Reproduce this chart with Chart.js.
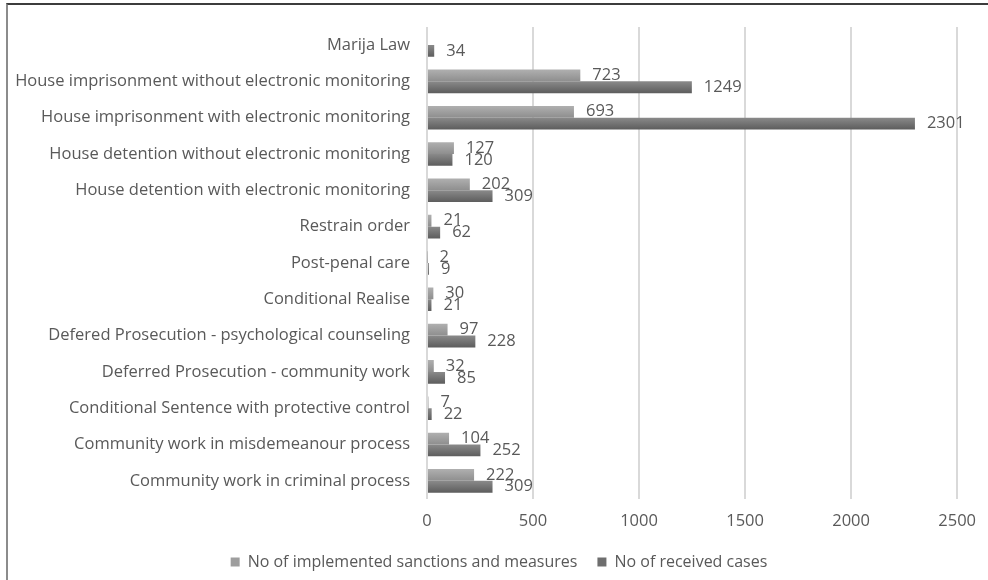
<!DOCTYPE html>
<html>
<head>
<meta charset="utf-8">
<script src="https://cdn.jsdelivr.net/npm/chart.js@4.4.0/dist/chart.umd.min.js"></script>
<style>
  html, body { margin: 0; padding: 0; background: #fff; }
  #wrap { position: relative; width: 988px; height: 580px; overflow: hidden; }
  #frame { position: absolute; left: 6px; top: 3px; width: 1000px; height: 600px;
           border-top: 2px solid #3c3c3c; border-left: 2px solid #8c8c8c; }
  canvas { position: absolute; left: 0; top: 0; }
</style>
</head>
<body>
<div id="wrap">
  <div id="frame"></div>
  <canvas id="chart" width="988" height="580"></canvas>
</div>
<script>
// categories, top to bottom as in the picture
const categories = [
  'Marija Law',
  'House imprisonment without electronic monitoring',
  'House imprisonment with electronic monitoring',
  'House detention without electronic monitoring',
  'House detention with electronic monitoring',
  'Restrain order',
  'Post-penal care',
  'Conditional Realise',
  'Defered Prosecution - psychological counseling',
  'Deferred Prosecution - community work',
  'Conditional Sentence with protective control',
  'Community work in misdemeanour process',
  'Community work in criminal process'
];

const implemented = [null, 723, 693, 127, 202, 21, 2, 30, 97, 32, 7, 104, 222];
const received = [34, 1249, 2301, 120, 309, 62, 9, 21, 228, 85, 22, 252, 309];

const xTicks = [0, 500, 1000, 1500, 2000, 2500];

const FONT = '"Open Sans", Lato, sans-serif';
const TEXT = '#595959';

// vertical gradient for each bar (light on top, darker below)
function barGradient(top, bottom, half) {
  return function (ctx) {
    const chart = ctx.chart;
    const y = chart.scales.y;
    if (!y || ctx.type !== 'data') return bottom;
    const c = y.getPixelForValue(ctx.dataIndex);
    const y0 = half === 0 ? c - 12 : c;
    const g = chart.ctx.createLinearGradient(0, y0, 0, y0 + 12);
    g.addColorStop(0, top);
    g.addColorStop(1, bottom);
    return g;
  };
}

// value labels right of each bar
const valueLabels = {
  id: 'valueLabels',
  afterDatasetsDraw(chart) {
    const ctx = chart.ctx;
    ctx.save();
    ctx.font = '16.5px ' + FONT;
    ctx.fillStyle = TEXT;
    ctx.textAlign = 'left';
    ctx.textBaseline = 'middle';
    chart.data.datasets.forEach((ds, i) => {
      const meta = chart.getDatasetMeta(i);
      meta.data.forEach((bar, j) => {
        const v = ds.data[j];
        if (v === null || v === undefined) return;
        ctx.fillText(String(v), bar.x + 12, bar.y);
      });
    });
    ctx.restore();
  }
};

// the legend in the picture sits a little right of centre
const legendShift = {
  id: 'legendShift',
  afterLayout(chart) {
    if (chart.legend) chart.legend.left += 40;
  }
};

function createChart() {
  const ctx = document.getElementById('chart').getContext('2d');
  new Chart(ctx, {
    type: 'bar',
    data: {
      labels: categories,
      datasets: [
        {
          label: 'No of implemented sanctions and measures',
          data: implemented,
          backgroundColor: barGradient('#b0b0b0', '#8e8e8e', 0),
          borderWidth: 0
        },
        {
          label: 'No of received cases',
          data: received,
          backgroundColor: barGradient('#8a8a8a', '#5c5c5c', 1),
          borderWidth: 0
        }
      ]
    },
    options: {
      indexAxis: 'y',
      responsive: false,
      animation: false,
      devicePixelRatio: 1,
      categoryPercentage: 0.65,
      barPercentage: 1.0,
      layout: { padding: { top: 22, right: 30, left: 0, bottom: 0 } },
      scales: {
        x: {
          min: 0,
          max: 2500,
          afterBuildTicks(scale) { scale.ticks = xTicks.map(v => ({ value: v })); },
          afterFit(scale) { scale.height = 35; },
          grid: { color: '#d9d9d9', lineWidth: 2, drawTicks: false },
          border: { display: false },
          ticks: {
            color: TEXT,
            font: { family: FONT, size: 16.5 },
            padding: 12,
            callback: v => String(v)
          }
        },
        y: {
          afterFit(scale) { scale.width = 427; },
          grid: { display: false, drawTicks: false },
          border: { display: false },
          ticks: { color: TEXT, font: { family: FONT, size: 16.5 }, padding: 17, autoSkip: false }
        }
      },
      plugins: {
        legend: {
          position: 'bottom',
          labels: {
            color: TEXT,
            font: { family: FONT, size: 16 },
            boxWidth: 9,
            boxHeight: 9,
            padding: 20,
            generateLabels(chart) {
              const cols = ['#9e9e9e', '#6e6e6e'];
              return chart.data.datasets.map((ds, i) => ({
                text: ds.label,
                fillStyle: cols[i],
                strokeStyle: cols[i],
                lineWidth: 0,
                fontColor: TEXT,
                datasetIndex: i,
                hidden: false
              }));
            }
          }
        },
        tooltip: { enabled: false }
      }
    },
    plugins: [valueLabels, legendShift]
  });
}

document.addEventListener('DOMContentLoaded', createChart);
</script>
</body>
</html>
